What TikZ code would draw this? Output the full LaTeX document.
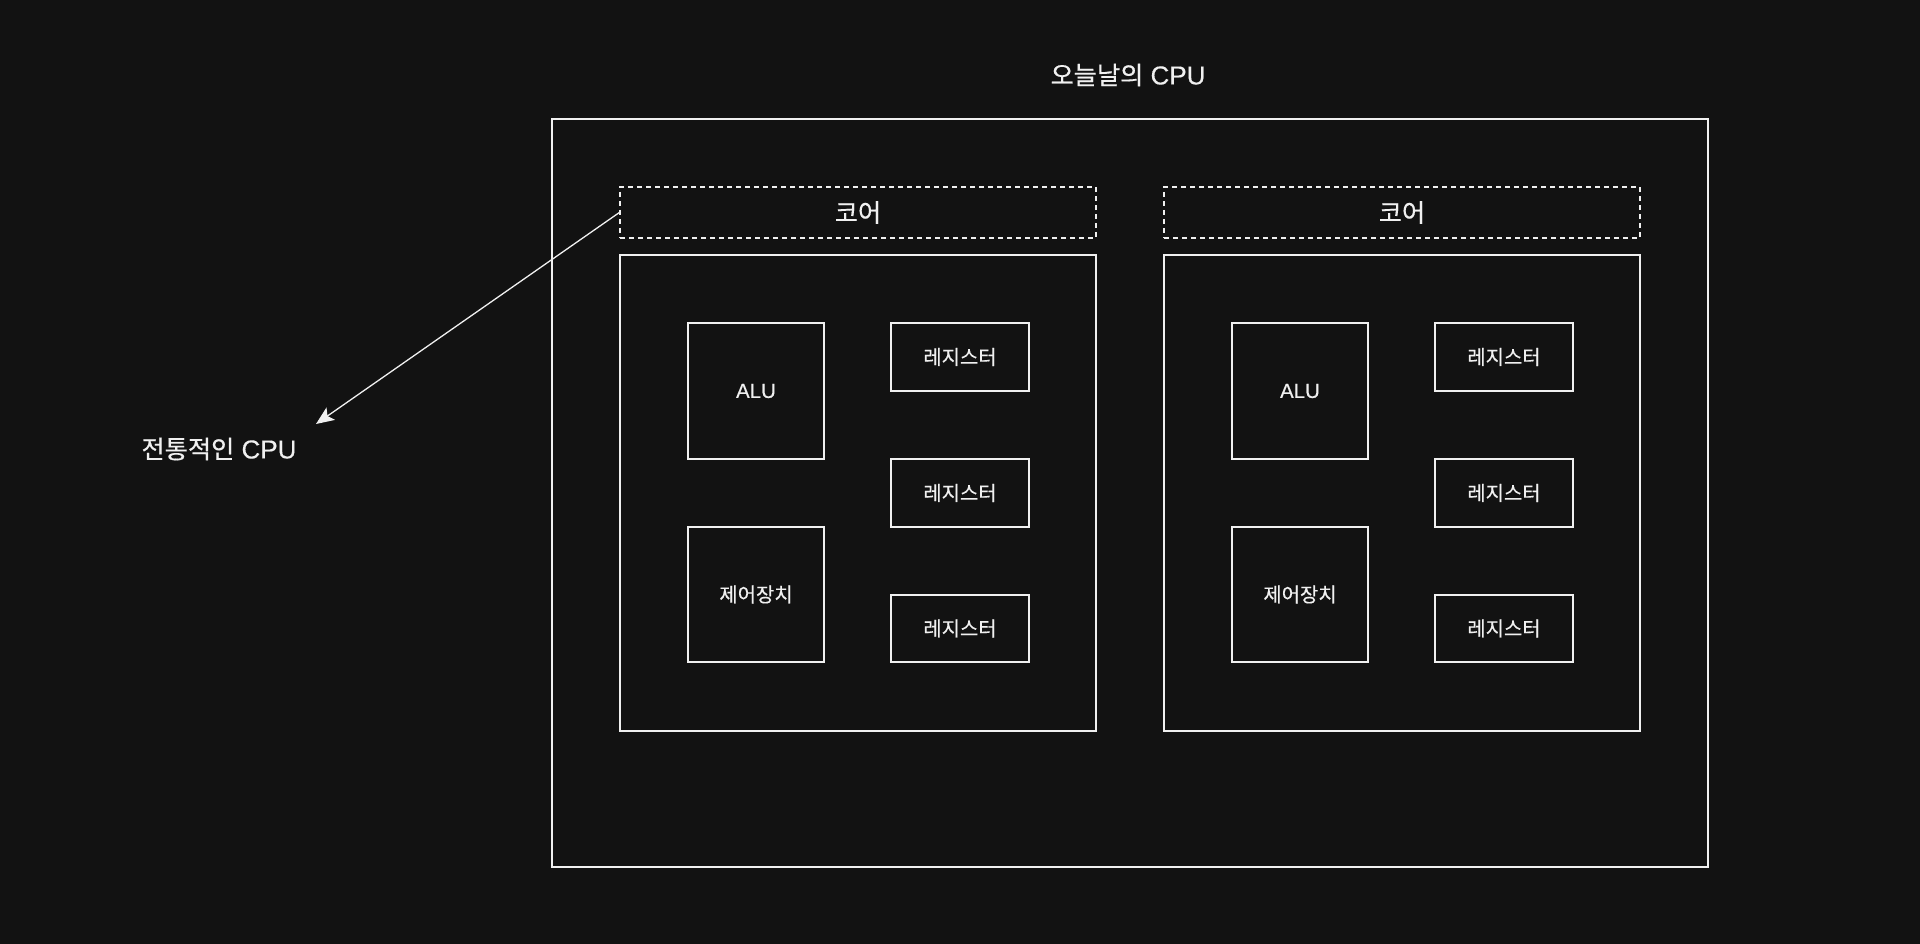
\documentclass[tikz,border=0pt]{standalone}
\usepackage{fontspec}
\setmainfont{Liberation Sans}[FakeBold=0.3]
\newfontfamily\kr{Noto Sans CJK KR}[Scale=0.97,FakeBold=0.4]
\usetikzlibrary{arrows.meta}
\definecolor{bg}{HTML}{121212}
\definecolor{fg}{HTML}{F0F0F0}
\tikzset{
  box/.style={draw=fg, line width=1.3pt, fill=bg, text=fg, inner sep=0pt, font=\fontsize{20.5}{24}\selectfont},
  dbox/.style={draw=fg, line width=1.3pt, dash pattern=on 5pt off 4pt, text=fg, inner sep=0pt, font=\fontsize{26}{30}\selectfont},
  label/.style={text=fg, inner sep=0pt, font=\fontsize{26}{30}\selectfont},
  conn/.style={draw=fg, line width=1.3pt, -{Stealth[length=18pt,width=15pt,inset=4pt]}}
}
\begin{document}
\begin{tikzpicture}[x=1pt,y=-1pt]
\useasboundingbox[fill=bg] (0,0) rectangle (1920,944);
\node[box, minimum width=1156pt, minimum height=748pt] (cpu) at (1130,493) {};
\node[label] (title) at (1128,75) {{\kr 오늘날의} CPU};
\node[label] (trad) at (219,449) {{\kr 전통적인} CPU};
\foreach \i/\dx in {l/0, r/544} {
  \node[dbox, minimum width=476pt, minimum height=51pt] (core\i) at (858+\dx,212.5) {\kr 코어};
  \node[box, minimum width=476pt, minimum height=476pt] (body\i) at (858+\dx,493) {};
  \node[box, minimum width=136pt, minimum height=136pt] (alu\i) at (756+\dx,391) {ALU};
  \node[box, minimum width=136pt, minimum height=135pt] (cu\i) at (756+\dx,594.5) {\kr 제어장치};
  \node[box, minimum width=138pt, minimum height=68pt] (ra\i) at (960+\dx,357) {\kr 레지스터};
  \node[box, minimum width=138pt, minimum height=68pt] (rb\i) at (960+\dx,493) {\kr 레지스터};
  \node[box, minimum width=138pt, minimum height=67pt] (rc\i) at (960+\dx,628.5) {\kr 레지스터};
}
\coordinate (tip) at (316,424);
\draw[conn] (corel.west) -- (tip);
\end{tikzpicture}
\end{document}
